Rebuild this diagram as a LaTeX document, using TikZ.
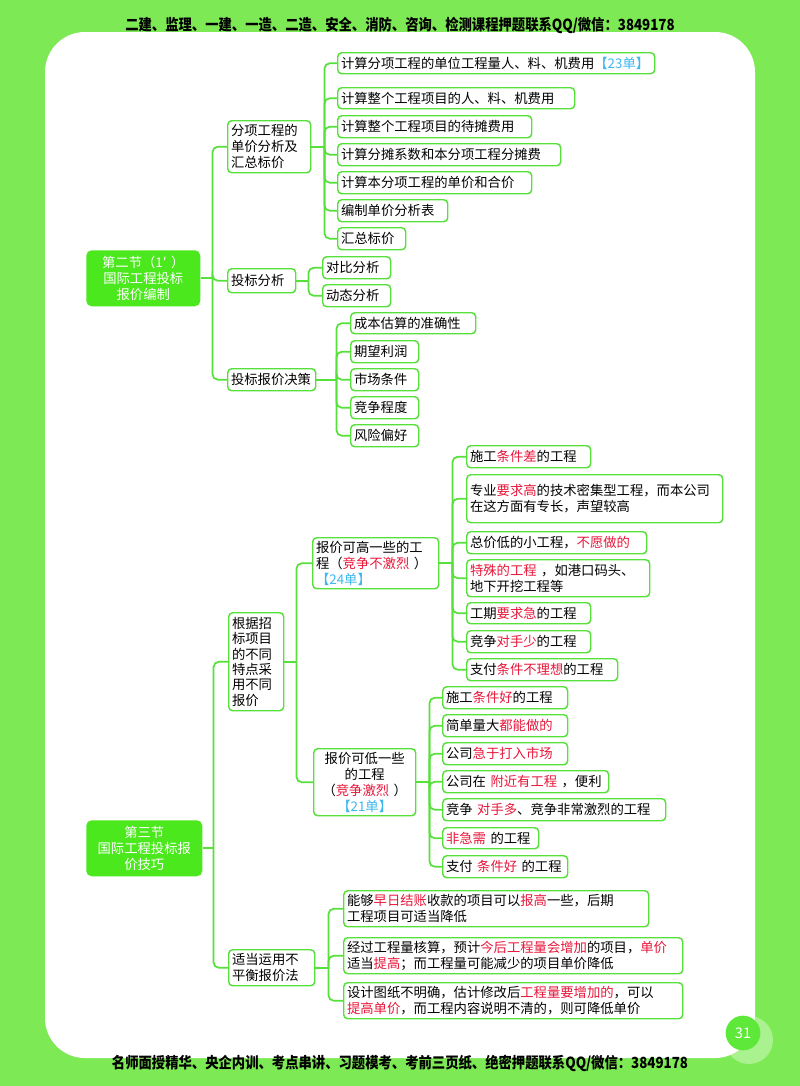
\documentclass[tikz,border=0pt]{standalone}
\usepackage{fontspec}
\setmainfont{Noto Sans CJK SC}
\definecolor{bg}{HTML}{7DEA55}
\definecolor{ln}{HTML}{55E03A}
\definecolor{rootg}{HTML}{4CE81E}
\definecolor{rd}{HTML}{E8173A}
\definecolor{bl}{HTML}{3CB8EE}
\definecolor{circg}{HTML}{5EE83A}
\newcommand\redt[1]{\textcolor{rd}{#1}}
\newcommand\bluet[1]{\textcolor{bl}{#1}}
\tikzset{
  sz/.code 2 args={\pgfmathsetlengthmacro\mytw{0.75*(#1)-5}\pgfmathsetlengthmacro\myht{0.75*(#2)}\tikzset{text width/.expanded=\mytw, minimum height/.expanded=\myht}},
  leaf/.style={draw=ln, line width=1.1pt, fill=white, rounded corners=3pt, anchor=north west, inner xsep=2.5pt, inner ysep=1pt, align=left, font=\fontsize{10}{12}\selectfont, text=black},
  rootbox/.style={fill=rootg, text=white, rounded corners=4pt, anchor=north west, inner xsep=2.5pt, inner ysep=1pt, align=center, font=\fontsize{10}{12}\selectfont},
  conn/.style={draw=ln, line width=1.3pt, rounded corners=4pt},
  hdrtext/.style={font=\bfseries\fontsize{10}{12}\selectfont, text=black}
}
\begin{document}
\begin{tikzpicture}[x=0.75pt,y=-0.75pt]
\useasboundingbox (0,0) rectangle (800,1086);
\fill[bg] (0,0) rectangle (800,1086);
\fill[white, rounded corners=30pt] (45,32) rectangle (755,1058);
\node[hdrtext] (hdr) at (400,25) {\scalebox{1}[1.15]{二建、监理、一建、一造、二造、安全、消防、咨询、检测课程押题联系QQ/微信：3849178}};
\node[hdrtext] (ftr) at (400,1063) {\scalebox{1}[1.15]{名师面授精华、央企内训、考点串讲、习题模考、考前三页纸、绝密押题联系QQ/微信：3849178}};
\fill[white, opacity=0.35] (749,1040) circle [radius=18pt];
\fill[circg] (743,1033) circle [radius=13pt];
\node[text=white, font=\fontsize{11}{13}\selectfont] (pg) at (743,1033) {31};

% roots
\node[rootbox, sz={114}{56}] (R1) at (86,250) {第二节（1′ ）\\国际工程投标\\报价编制};
\node[rootbox, sz={116}{56}] (R2) at (86,820) {第三节\\国际工程投标报\\价技巧};

% level 1
\node[leaf, sz={83}{52}] (La) at (227,120) {分项工程的\\单价分析及\\汇总标价};
\node[leaf, sz={68}{24}] (Lb) at (227,268) {投标分析};
\node[leaf, sz={88}{22}] (Lc) at (227,368) {投标报价决策};
\node[leaf, sz={55}{98}, font=\fontsize{10}{11.5}\selectfont] (L2a) at (228,612) {根据招\\标项目\\的不同\\特点采\\用不同\\报价};
\node[leaf, sz={86}{36}] (L2b) at (228,949) {适当运用不\\平衡报价法};
\node[leaf, sz={126}{51}] (L3a) at (312,537) {报价可高一些的工\\程（\redt{竞争不激烈} ）\\\bluet{【24单】}};
\node[leaf, sz={102}{67}, align=center] (L3b) at (313,748) {报价可低一些\\的工程\\（\redt{竞争激烈} ）\\\bluet{【21单】}};

% leaves a
\node[leaf, sz={317}{21}] (a1) at (337,52) {计算分项工程的单位工程量人、料、机费用\bluet{【23单】}};
\node[leaf, sz={237}{21}] (a2) at (337,87) {计算整个工程项目的人、料、机费用};
\node[leaf, sz={194}{22}] (a3) at (337,115) {计算整个工程项目的待摊费用};
\node[leaf, sz={223}{22}] (a4) at (337,143) {计算分摊系数和本分项工程分摊费};
\node[leaf, sz={194}{22}] (a5) at (337,171) {计算本分项工程的单价和合价};
\node[leaf, sz={110}{22}] (a6) at (337,199) {编制单价分析表};
\node[leaf, sz={68}{22}] (a7) at (337,227) {汇总标价};
% b
\node[leaf, sz={68}{22}] (b1) at (322,256) {对比分析};
\node[leaf, sz={68}{22}] (b2) at (322,284) {动态分析};
% c
\node[leaf, sz={125}{21}] (c1) at (350,312) {成本估算的准确性};
\node[leaf, sz={68}{22}] (c2) at (350,340) {期望利润};
\node[leaf, sz={68}{22}] (c3) at (350,368) {市场条件};
\node[leaf, sz={68}{22}] (c4) at (350,396) {竞争程度};
\node[leaf, sz={68}{22}] (c5) at (350,424) {风险偏好};
% d
\node[leaf, sz={124}{22}] (d1) at (466,445) {施工\redt{条件差}的工程};
\node[leaf, sz={256}{48}] (d2) at (466,474) {专业\redt{要求高}的技术密集型工程，而本公司\\在这方面有专长，声望较高};
\node[leaf, sz={180}{22}] (d3) at (466,531) {总价低的小工程，\redt{不愿做的}};
\node[leaf, sz={183}{37}] (d4) at (466,559) {\redt{特殊的工程} ，如港口码头、\\地下开挖工程等};
\node[leaf, sz={124}{21}] (d5) at (466,602) {工期\redt{要求急}的工程};
\node[leaf, sz={124}{22}] (d6) at (466,630) {竞争\redt{对手少}的工程};
\node[leaf, sz={151}{22}] (d7) at (466,658) {支付\redt{条件不理想}的工程};
% e
\node[leaf, sz={125}{22}] (e1) at (442,686) {施工\redt{条件好}的工程};
\node[leaf, sz={125}{22}] (e2) at (442,714) {简单量大\redt{都能做的}};
\node[leaf, sz={125}{22}] (e3) at (442,742) {公司\redt{急于打入市场}};
\node[leaf, sz={166}{22}] (e4) at (442,770) {公司在 \redt{附近有工程} ，便利};
\node[leaf, sz={223}{22}] (e5) at (442,798) {竞争 \redt{对手多}、竞争非常激烈的工程};
\node[leaf, sz={96}{21}] (e6) at (442,827) {\redt{非急需} 的工程};
\node[leaf, sz={125}{22}] (e7) at (442,855) {支付 \redt{条件好} 的工程};
% f
\node[leaf, sz={305}{36}] (f1) at (343,890) {能够\redt{早日结账}收款的项目可以\redt{报高}一些，后期\\工程项目可适当降低};
\node[leaf, sz={339}{36}] (f2) at (343,937) {经过工程量核算，预计\redt{今后工程量会增加}的项目，\redt{单价}\\适当\redt{提高}；而工程量可能减少的项目单价降低};
\node[leaf, sz={339}{36}] (f3) at (343,982) {设计图纸不明确，估计修改后\redt{工程量要增加的}，可以\\\redt{提高单价}，而工程内容说明不清的，则可降低单价};

% bus points
\coordinate (kR1) at ([xshift=9pt]R1.east);
\coordinate (kA) at ([xshift=9.75pt]La.east);
\coordinate (kB) at ([xshift=9pt]Lb.east);
\coordinate (kC) at ([xshift=15pt]Lc.east);
\coordinate (kR2) at ([xshift=8.25pt]R2.east);
\coordinate (kD) at ([xshift=9pt]L2a.east);
\coordinate (kE) at ([xshift=9.75pt]L3a.east);
\coordinate (kF) at ([xshift=9.75pt]L3b.east);
\coordinate (kG) at ([xshift=9.75pt]L2b.east);

\draw[conn] (R1.east) -- (kR1);
\foreach \c in {La,Lb,Lc} \draw[conn] (kR1) |- (\c.west);
\draw[conn] (La.east) -- (kA);
\foreach \c in {a1,a2,a3,a4,a5,a6,a7} \draw[conn] (kA) |- (\c.west);
\draw[conn] (Lb.east) -- (kB);
\foreach \c in {b1,b2} \draw[conn] (kB) |- (\c.west);
\draw[conn] (Lc.east) -- (kC);
\foreach \c in {c1,c2,c3,c4,c5} \draw[conn] (kC) |- (\c.west);
\draw[conn] (R2.east) -- (kR2);
\foreach \c in {L2a,L2b} \draw[conn] (kR2) |- (\c.west);
\draw[conn] (L2a.east) -- (kD);
\foreach \c in {L3a,L3b} \draw[conn] (kD) |- (\c.west);
\draw[conn] (L3a.east) -- (kE);
\foreach \c in {d1,d2,d3,d4,d5,d6,d7} \draw[conn] (kE) |- (\c.west);
\draw[conn] (L3b.east) -- (kF);
\foreach \c in {e1,e2,e3,e4,e5,e6,e7} \draw[conn] (kF) |- (\c.west);
\draw[conn] (L2b.east) -- (kG);
\foreach \c in {f1,f2,f3} \draw[conn] (kG) |- (\c.west);
\end{tikzpicture}
\end{document}
